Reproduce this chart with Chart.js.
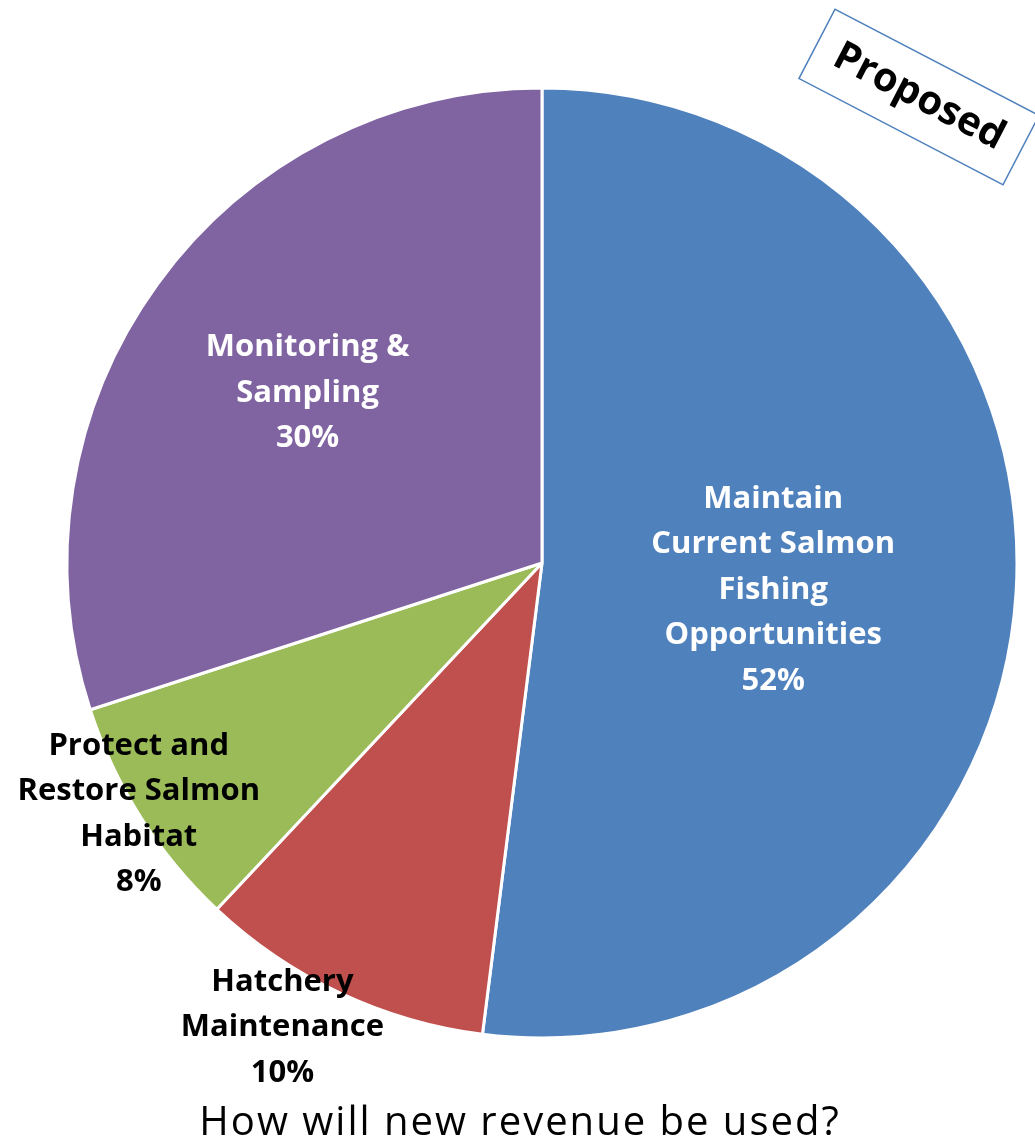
<!DOCTYPE html>
<html>
<head>
<meta charset="utf-8">
<script src="https://cdn.jsdelivr.net/npm/chart.js@4.4.0/dist/chart.umd.min.js"></script>
<style>
  html, body { margin: 0; padding: 0; background: #ffffff; }
  #wrap { width: 1035px; height: 1141px; position: relative; }
</style>
</head>
<body>
<div id="wrap"><canvas id="chart-revenue" width="1035" height="1141"></canvas></div>
<script>
// Proposed use of new revenue

const categorias = [
  ['Maintain', 'Current Salmon', 'Fishing', 'Opportunities'],
  ['Hatchery', 'Maintenance'],
  ['Protect and', 'Restore Salmon', 'Habitat'],
  ['Monitoring &', 'Sampling']
];
const porcentajes = [52, 10, 8, 30];
const colores = ['#4F81BD', '#C0504D', '#9BBB59', '#8064A2'];
const titulo = 'How will new revenue be used?';
const sello = 'Proposed';

// donde va cada etiqueta: fraccion del radio, giro extra en grados, color
const posEtiquetas = [
  { f: 0.49, giro: 3, color: '#ffffff' },
  { f: 1.12, giro: 4, color: '#000000' },
  { f: 1.0, giro: 0.5, color: '#000000' },
  { f: 0.61, giro: 0, color: '#ffffff' }
];

const FUENTE = '"Open Sans", Lato, sans-serif';

const pluginEtiquetas = {
  id: 'etiquetas',
  afterDatasetsDraw(chart) {
    const ctx = chart.ctx;
    const arcs = chart.getDatasetMeta(0).data;
    ctx.save();
    ctx.font = 'bold 31px ' + FUENTE;
    ctx.textAlign = 'center';
    ctx.textBaseline = 'middle';
    arcs.forEach((arc, i) => {
      const p = posEtiquetas[i];
      const ang = (arc.startAngle + arc.endAngle) / 2 + p.giro * Math.PI / 180;
      const r = arc.outerRadius * p.f;
      const cx = arc.x + Math.cos(ang) * r;
      const cy = arc.y + Math.sin(ang) * r;
      const lineas = [...categorias[i], porcentajes[i] + '%'];
      const alto = 45.5;
      const y0 = cy - (lineas.length - 1) * alto / 2;
      ctx.fillStyle = p.color;
      lineas.forEach((t, k) => ctx.fillText(t, cx, y0 + k * alto));
    });
    ctx.restore();
  }
};

const pluginExtras = {
  id: 'extras',
  afterDraw(chart) {
    const ctx = chart.ctx;
    ctx.save();
    // titulo abajo
    ctx.font = '40px ' + FUENTE;
    ctx.letterSpacing = '2px';
    ctx.fillStyle = '#000000';
    ctx.textAlign = 'center';
    ctx.textBaseline = 'alphabetic';
    ctx.fillText(titulo, 520, 1135);
    ctx.letterSpacing = '0px';
    // sello "Proposed" girado
    ctx.translate(919, 97);
    ctx.rotate(27.5 * Math.PI / 180);
    ctx.strokeStyle = '#4F81BD';
    ctx.lineWidth = 1.5;
    ctx.strokeRect(-115, -39, 230, 78);
    ctx.font = 'bold 40px ' + FUENTE;
    ctx.textAlign = 'center';
    ctx.textBaseline = 'middle';
    ctx.fillText(sello, 0, 0);
    ctx.restore();
  }
};

new Chart(document.getElementById('chart-revenue'), {
  type: 'pie',
  data: {
    labels: categorias.map(c => c.join(' ')),
    datasets: [{
      data: porcentajes,
      backgroundColor: colores,
      borderColor: '#ffffff',
      borderWidth: 3
    }]
  },
  options: {
    responsive: false,
    animation: false,
    radius: 475,
    layout: { padding: { left: 67, right: 18, top: 88, bottom: 103 } },
    plugins: {
      legend: { display: false },
      tooltip: { enabled: false }
    }
  },
  plugins: [pluginEtiquetas, pluginExtras]
});
</script>
</body>
</html>
